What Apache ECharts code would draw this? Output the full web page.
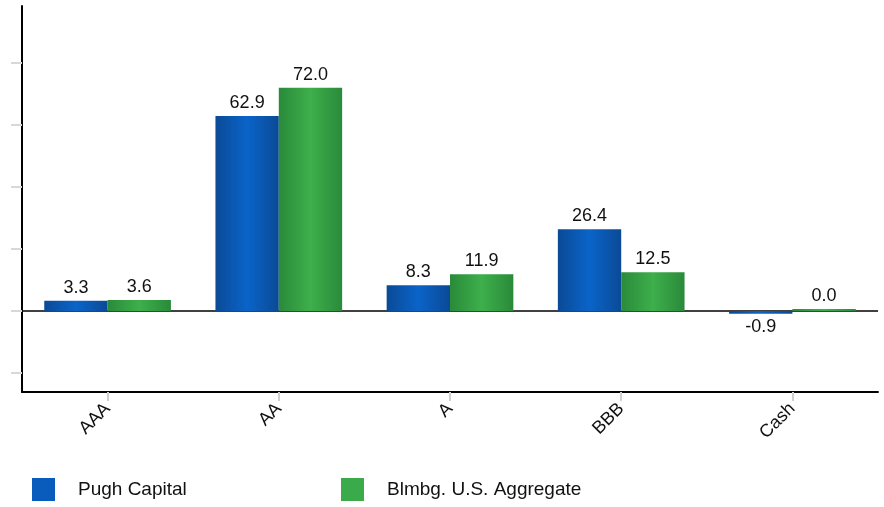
<!DOCTYPE html>
<html>
<head>
<meta charset="utf-8">
<script src="https://cdn.jsdelivr.net/npm/echarts@6/dist/echarts.min.js"></script>
<style>
  html, body { margin: 0; padding: 0; background: #fff; }
  #chart { width: 884px; height: 507px; }
</style>
</head>
<body>
<div id="chart"></div>
<script>
// Credit quality breakdown (%)
const categories = ['AAA', 'AA', 'A', 'BBB', 'Cash'];
const pughCapital = [3.3, 62.9, 8.3, 26.4, -0.9];
const blmbgAggregate = [3.6, 72.0, 11.9, 12.5, 0.0];
const yTickValues = [-20, 0, 20, 40, 60, 80];

const FONT = 'Liberation Sans';
const BLUE = '#0a5cbc';
const GREEN = '#3aaa4a';

function barGradient(edge, mid) {
  return new echarts.graphic.LinearGradient(0, 0, 1, 0, [
    { offset: 0, color: edge },
    { offset: 0.5, color: mid },
    { offset: 1, color: edge }
  ]);
}

function buildData(values) {
  return values.map(v => ({
    value: v,
    label: { position: v < 0 ? 'bottom' : 'top' }
  }));
}

const labelStyle = {
  show: true,
  fontFamily: FONT,
  fontSize: 18,
  color: '#111',
  distance: 4,
  formatter: p => p.value.toFixed(1)
};

function legendFor(name, left, color) {
  return {
    data: [{ name: name, itemStyle: { color: color } }],
    left: left, top: 478,
    padding: 0,
    itemWidth: 23, itemHeight: 23, itemGap: 0,
    icon: 'rect',
    textStyle: { fontFamily: FONT, fontSize: 19, color: '#111', padding: [0, 0, 0, 18] }
  };
}

const chart = echarts.init(document.getElementById('chart'));
chart.setOption({
  animation: false,
  grid: { left: 22, right: 6, top: 6, bottom: 115, containLabel: false },
  legend: [
    legendFor('Pugh Capital', 32, BLUE),
    legendFor('Blmbg. U.S. Aggregate', 341, GREEN)
  ],
  xAxis: {
    type: 'category',
    data: categories,
    axisLine: { show: true, onZero: false, lineStyle: { color: '#000', width: 2 } },
    axisTick: { show: true, alignWithLabel: true, length: 9, lineStyle: { color: '#d0d0d0', width: 2 } },
    axisLabel: {
      rotate: 45, interval: 0, margin: 14,
      fontFamily: FONT, fontSize: 18, color: '#111'
    },
    splitLine: { show: false }
  },
  yAxis: {
    type: 'value',
    min: -26.1,
    max: 98.4,
    axisLine: { show: true, lineStyle: { color: '#000', width: 2 } },
    axisTick: {
      show: true, inside: false, length: 11,
      customValues: yTickValues,
      lineStyle: { color: '#d8d8d8', width: 2 }
    },
    axisLabel: { show: false },
    splitLine: { show: false }
  },
  series: [
    {
      name: 'Pugh Capital',
      type: 'bar',
      data: buildData(pughCapital),
      barGap: '0%',
      barCategoryGap: '26%',
      barMinHeight: 2,
      itemStyle: { color: barGradient('#0a4a96', '#0a64c9') },
      label: labelStyle,
      markLine: {
        silent: true,
        symbol: 'none',
        label: { show: false },
        lineStyle: { color: '#000', width: 1.5, type: 'solid' },
        data: [{ yAxis: 0 }],
        z: 1
      },
      z: 3
    },
    {
      name: 'Blmbg. U.S. Aggregate',
      type: 'bar',
      data: buildData(blmbgAggregate),
      barGap: '0%',
      barCategoryGap: '26%',
      barMinHeight: 2,
      itemStyle: { color: barGradient('#2a8a3a', '#3daf4b') },
      label: labelStyle,
      z: 3
    }
  ]
});
</script>
</body>
</html>
